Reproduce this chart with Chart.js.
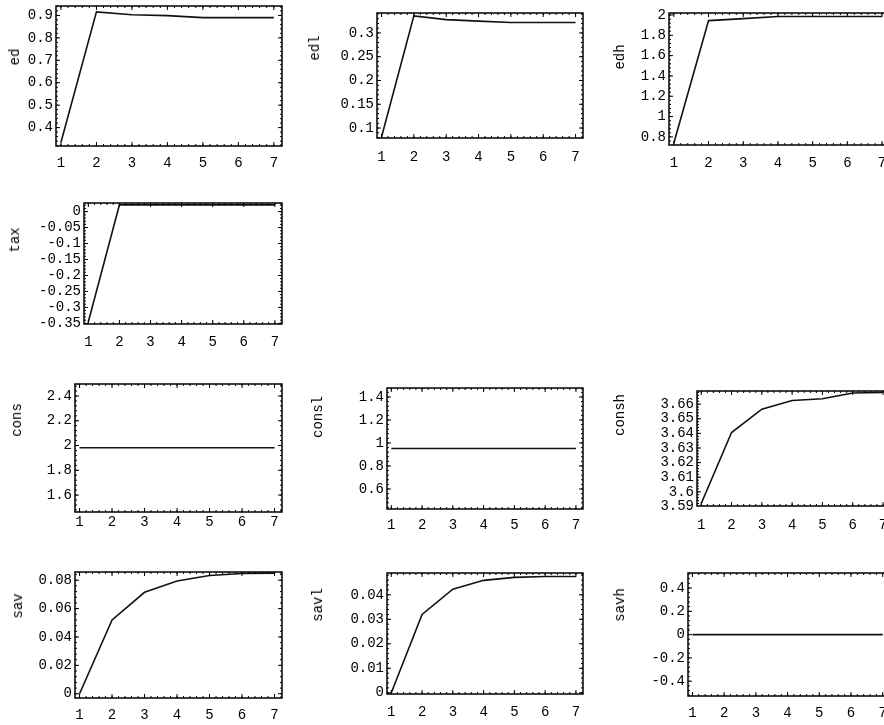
<!DOCTYPE html>
<html>
<head>
<meta charset="utf-8">
<script src="https://cdn.jsdelivr.net/npm/chart.js@4.4.1/dist/chart.umd.min.js"></script>
<style>
    body { margin: 0; background: #fff; width: 884px; height: 725px; overflow: hidden; position: relative; }
    canvas { position: absolute; }
    .ylab {
        position: absolute;
        transform: translate(-50%, -50%) rotate(-90deg);
        font: 14px "Liberation Mono", "DejaVu Sans Mono", monospace;
        color: #000;
        white-space: nowrap;
    }
</style>
</head>
<body>
<script>
// time periods on the x axis
const periods = [1, 2, 3, 4, 5, 6, 7];

// series
const ed    = [0.335, 0.916, 0.903, 0.899, 0.890, 0.890, 0.890];
const edl   = [0.081, 0.336, 0.328, 0.325, 0.322, 0.322, 0.322];
const edh   = [0.74, 1.945, 1.965, 1.985, 1.985, 1.985, 1.985];
const tax   = [-0.345, 0.021, 0.021, 0.021, 0.021, 0.021, 0.021];
const cons  = [1.982, 1.982, 1.982, 1.982, 1.982, 1.982, 1.982];
const consl = [0.952, 0.952, 0.952, 0.952, 0.952, 0.952, 0.952];
const consh = [3.592, 3.6406, 3.6566, 3.6625, 3.6637, 3.6676, 3.668];
const sav   = [0.0, 0.052, 0.0715, 0.0795, 0.0833, 0.0847, 0.085];
const savl  = [0.0, 0.032, 0.0423, 0.0459, 0.0471, 0.0475, 0.0475];
const savh  = [0, 0, 0, 0, 0, 0, 0];

// y tick labels
const edTicks    = [0.4, 0.5, 0.6, 0.7, 0.8, 0.9];
const edlTicks   = [0.1, 0.15, 0.2, 0.25, 0.3];
const edhTicks   = [0.8, 1, 1.2, 1.4, 1.6, 1.8, 2];
const taxTicks   = [-0.35, -0.3, -0.25, -0.2, -0.15, -0.1, -0.05, 0];
const consTicks  = [1.6, 1.8, 2, 2.2, 2.4];
const conslTicks = [0.6, 0.8, 1, 1.2, 1.4];
const conshTicks = [3.59, 3.6, 3.61, 3.62, 3.63, 3.64, 3.65, 3.66];
const savTicks   = [0, 0.02, 0.04, 0.06, 0.08];
const savlTicks  = [0, 0.01, 0.02, 0.03, 0.04];
const savhTicks  = [-0.4, -0.2, 0, 0.2, 0.4];

const X_MIN = 0.86, X_MAX = 7.23;
const FONT = { family: '"Liberation Mono", "DejaVu Sans Mono", monospace', size: 14 };
const Y_AXIS_W = 62, PAD_TOP = 12, PAD_RIGHT = 12, X_AXIS_H = 32;

// frame = [left, top, right, bottom] of the plot box, label = centre of the axis name
const panels = [
    { name: 'ed',    values: ed,    ticks: edTicks,    yMin: 0.318,   yMax: 0.942,  frame: [56, 6, 282, 146],   label: [15, 57],   xLab: 163 },
    { name: 'edl',   values: edl,   ticks: edlTicks,   yMin: 0.079,   yMax: 0.342,  frame: [377, 13, 583, 138], label: [315, 48],  xLab: 157 },
    { name: 'edh',   values: edh,   ticks: edhTicks,   yMin: 0.72,    yMax: 2.02,   frame: [669, 13, 890, 145], label: [620, 57],  xLab: 163 },
    { name: 'tax',   values: tax,   ticks: taxTicks,   yMin: -0.352,  yMax: 0.027,  frame: [84, 203, 282, 324], label: [15, 240],  xLab: 342 },
    { name: 'cons',  values: cons,  ticks: consTicks,  yMin: 1.463,   yMax: 2.497,  frame: [75, 384, 282, 512], label: [17, 420],  xLab: 522 },
    { name: 'consl', values: consl, ticks: conslTicks, yMin: 0.426,   yMax: 1.478,  frame: [387, 388, 583, 509], label: [318, 417], xLab: 525 },
    { name: 'consh', values: consh, ticks: conshTicks, yMin: 3.5903,  yMax: 3.669,  frame: [697, 391, 890, 506], label: [620, 415], xLab: 525 },
    { name: 'sav',   values: sav,   ticks: savTicks,   yMin: -0.003,  yMax: 0.0858, frame: [75, 572, 282, 698], label: [18, 606],  xLab: 715 },
    { name: 'savl',  values: savl,  ticks: savlTicks,  yMin: -0.0005, yMax: 0.0489, frame: [387, 573, 583, 694], label: [318, 605], xLab: 712 },
    { name: 'savh',  values: savh,  ticks: savhTicks,  yMin: -0.527,  yMax: 0.529,  frame: [688, 573, 890, 696], label: [620, 605], xLab: 713 }
];

function fmt(v) {
    return String(+v.toFixed(4));
}

// Mathematica style frame: box with inward major and minor ticks on all sides
const framePlugin = {
    id: 'frame',
    afterDraw(chart) {
        const { ctx, chartArea: a, scales } = chart;
        ctx.save();
        ctx.strokeStyle = '#000';
        ctx.lineWidth = 1;

        const drawTicks = (scale, vals, len) => {
            vals.forEach(v => {
                const p = scale.getPixelForValue(v);
                ctx.beginPath();
                if (scale.axis === 'x') {
                    if (p < a.left || p > a.right) return;
                    ctx.moveTo(p, a.bottom); ctx.lineTo(p, a.bottom - len);
                    ctx.moveTo(p, a.top); ctx.lineTo(p, a.top + len);
                } else {
                    if (p < a.top || p > a.bottom) return;
                    ctx.moveTo(a.left, p); ctx.lineTo(a.left + len, p);
                    ctx.moveTo(a.right, p); ctx.lineTo(a.right - len, p);
                }
                ctx.stroke();
            });
        };

        [scales.x, scales.y].forEach(scale => {
            const major = scale.ticks.map(t => t.value);
            const step = major[1] - major[0];
            const minorStep = step / 5;
            const minor = [];
            for (let k = Math.ceil(scale.min / minorStep); k * minorStep <= scale.max; k++) {
                minor.push(k * minorStep);
            }
            drawTicks(scale, minor, 2);
            drawTicks(scale, major, 4);
        });

        ctx.lineWidth = 1.5;
        ctx.strokeRect(a.left, a.top, a.right - a.left, a.bottom - a.top);
        ctx.restore();
    }
};

panels.forEach(p => {
    const [fl, ft, fr, fb] = p.frame;
    const canvas = document.createElement('canvas');
    const w = (fr - fl) + Y_AXIS_W + PAD_RIGHT;
    const h = (fb - ft) + PAD_TOP + X_AXIS_H;
    canvas.width = w;
    canvas.height = h;
    canvas.style.left = (fl - Y_AXIS_W) + 'px';
    canvas.style.top = (ft - PAD_TOP) + 'px';
    canvas.style.width = w + 'px';
    canvas.style.height = h + 'px';
    document.body.appendChild(canvas);

    const lab = document.createElement('div');
    lab.className = 'ylab';
    lab.textContent = p.name;
    lab.style.left = p.label[0] + 'px';
    lab.style.top = p.label[1] + 'px';
    document.body.appendChild(lab);

    new Chart(canvas, {
        type: 'line',
        data: {
            datasets: [{
                data: periods.map((x, i) => ({ x: x, y: p.values[i] })),
                borderColor: '#111',
                borderWidth: 1.6,
                pointRadius: 0,
                tension: 0,
                clip: false
            }]
        },
        options: {
            responsive: false,
            animation: false,
            events: [],
            layout: { padding: { top: PAD_TOP, right: PAD_RIGHT, left: 0, bottom: 0 } },
            plugins: { legend: { display: false }, tooltip: { enabled: false } },
            scales: {
                x: {
                    type: 'linear',
                    min: X_MIN,
                    max: X_MAX,
                    afterBuildTicks: s => { s.ticks = periods.map(v => ({ value: v })); },
                    afterFit: s => { s.height = X_AXIS_H; },
                    grid: { display: false, drawTicks: false },
                    border: { display: false },
                    ticks: {
                        font: FONT,
                        color: '#000',
                        padding: p.xLab - fb - 8,
                        maxRotation: 0,
                        autoSkip: false,
                        callback: v => fmt(v)
                    }
                },
                y: {
                    type: 'linear',
                    min: p.yMin,
                    max: p.yMax,
                    afterBuildTicks: s => { s.ticks = p.ticks.map(v => ({ value: v })); },
                    afterFit: s => { s.width = Y_AXIS_W; },
                    grid: { display: false, drawTicks: false },
                    border: { display: false },
                    ticks: {
                        font: FONT,
                        color: '#000',
                        padding: 3,
                        autoSkip: false,
                        callback: v => fmt(v)
                    }
                }
            }
        },
        plugins: [framePlugin]
    });
});
</script>
</body>
</html>
